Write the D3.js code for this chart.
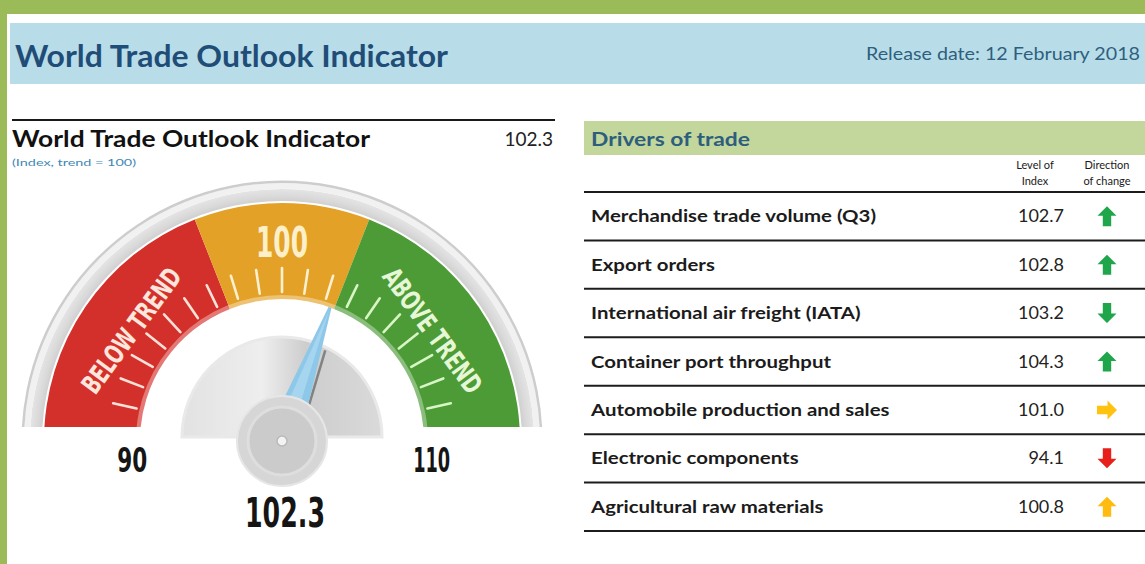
<!DOCTYPE html>
<html><head><meta charset="utf-8">
<script src="https://cdn.jsdelivr.net/npm/d3@7"></script>
<style>
html,body{margin:0;padding:0;background:#9bbb59;}
svg{display:block;}
</style></head><body>
<svg id="chart" width="1145" height="564"></svg>
<script>
// ---------------- data ----------------
const pageTitle = "World Trade Outlook Indicator";
const releaseDate = "Release date: 12 February 2018";
const gaugeTitle = "World Trade Outlook Indicator";
const gaugeSubtitle = "(Index, trend = 100)";
const gaugeValue = 102.3;
const gaugeDomain = [90, 110];
const bandBreaks = [90, 97.5, 102.5, 110];
const bandLabels = ["BELOW TREND", "100", "ABOVE TREND"];
const gaugeTicks = [91, 92, 93, 94, 95, 96, 97, 98, 99, 100, 101, 102, 103, 104, 105, 106, 107, 108, 109];
const gaugeEndLabels = ["90", "110"];
const tableTitle = "Drivers of trade";
const columnHeads = [["Level of", "Index"], ["Direction", "of change"]];
const drivers = [
  "Merchandise trade volume (Q3)",
  "Export orders",
  "International air freight (IATA)",
  "Container port throughput",
  "Automobile production and sales",
  "Electronic components",
  "Agricultural raw materials"
];
const driverValues = [102.7, 102.8, 103.2, 104.3, 101.0, 94.1, 100.8];
const driverDirections = ["up", "up", "down", "up", "right", "down", "up"];

// ---------------- styles ----------------
const bandColors = ["#d4302b", "#e4a127", "#4d9b36"];
const bandTextColors = ["#fde6dc", "#fdf0c8", "#e6f7d6"];
const arrowColors = ["#1fa64b", "#1fa64b", "#1fa64b", "#1fa64b", "#ffc20e", "#e8201c", "#ffbb0f"];
const bodyFont = "Lato, 'Open Sans', sans-serif";
const narrowFont = "'Liberation Sans Narrow','DejaVu Sans Condensed','Roboto Condensed',sans-serif";

const svg = d3.select("#chart");
const defs = svg.append("defs");

function fit(sel, w) { return sel.attr("textLength", w).attr("lengthAdjust", "spacingAndGlyphs"); }

// page background
svg.append("rect").attr("x", 7).attr("y", 14).attr("width", 1138).attr("height", 550).attr("fill", "#ffffff");
svg.append("rect").attr("x", 10).attr("y", 23).attr("width", 1135).attr("height", 61).attr("fill", "#b8dde8");
fit(svg.append("text").attr("x", 15).attr("y", 67).attr("font-family", bodyFont).attr("font-weight", 700)
  .attr("font-size", 30).attr("fill", "#1f4d78").text(pageTitle), 433);
fit(svg.append("text").attr("x", 866).attr("y", 60).attr("font-family", bodyFont)
  .attr("font-size", 17).attr("fill", "#2f5f7e").text(releaseDate), 274);

// ---------------- left panel ----------------
svg.append("line").attr("x1", 12).attr("x2", 555).attr("y1", 120).attr("y2", 120)
  .attr("stroke", "#1a1a1a").attr("stroke-width", 2);
fit(svg.append("text").attr("x", 12).attr("y", 147).attr("font-family", bodyFont).attr("font-weight", 700)
  .attr("font-size", 22).attr("fill", "#111").text(gaugeTitle), 358);
svg.append("text").attr("x", 553).attr("y", 146).attr("text-anchor", "end").attr("font-family", bodyFont)
  .attr("font-size", 19).attr("fill", "#222").text(d3.format(".1f")(gaugeValue));
fit(svg.append("text").attr("x", 12).attr("y", 166).attr("font-family", bodyFont)
  .attr("font-size", 10).attr("fill", "#3f88b5").text(gaugeSubtitle), 124);

const cx = 282, cy = 441;
const angle = d3.scaleLinear().domain(gaugeDomain).range([-86, 86]);
const rad = d => d * Math.PI / 180;
const polar = (r, deg) => [r * Math.sin(rad(deg)), -r * Math.cos(rad(deg))];

defs.append("clipPath").attr("id", "cut").append("rect")
  .attr("x", -300).attr("y", -300).attr("width", 600).attr("height", 286);

const dialGrad = defs.append("linearGradient").attr("id", "dialGrad").attr("x1", 0).attr("x2", 1).attr("y1", 0).attr("y2", 0);
[["0%", "#e2e2e2"], ["40%", "#eeeeee"], ["62%", "#cdcdcd"], ["100%", "#dadada"]]
  .forEach(([o, c]) => dialGrad.append("stop").attr("offset", o).attr("stop-color", c));
const rimGrad = defs.append("radialGradient").attr("id", "rimGrad").attr("gradientUnits", "userSpaceOnUse")
  .attr("cx", 0).attr("cy", 0).attr("r", 252);
[["94%", "#c9c9c9"], ["97%", "#d9d9d9"], ["100%", "#e4e4e4"]]
  .forEach(([o, c]) => rimGrad.append("stop").attr("offset", o).attr("stop-color", c));

const g = svg.append("g").attr("transform", `translate(${cx},${cy})`);
const gc = g.append("g").attr("clip-path", "url(#cut)");
const half = Math.PI / 2;

// rim
gc.append("path").attr("d", d3.arc()({ innerRadius: 240, outerRadius: 252, startAngle: -half, endAngle: half }))
  .attr("fill", "url(#rimGrad)");
gc.append("path").attr("d", d3.arc()({ innerRadius: 252, outerRadius: 258, startAngle: -half, endAngle: half }))
  .attr("fill", "#f1f1f1");
gc.append("path").attr("d", d3.arc()({ innerRadius: 258, outerRadius: 260.5, startAngle: -half, endAngle: half }))
  .attr("fill", "#cdcdcd");

// coloured bands
const bands = bandColors.map((c, i) => ({ from: bandBreaks[i], to: bandBreaks[i + 1], color: c, i }));
gc.selectAll("path.band").data(bands).join("path").attr("class", "band")
  .attr("d", d => d3.arc()({
    innerRadius: 142, outerRadius: 238,
    startAngle: d.from === gaugeDomain[0] ? -half : rad(angle(d.from)),
    endAngle: d.to === gaugeDomain[1] ? half : rad(angle(d.to))
  }))
  .attr("fill", d => d.color);
gc.append("path").attr("d", d3.arc()({ innerRadius: 140, outerRadius: 146, startAngle: -half, endAngle: half }))
  .attr("fill", "#ffffff").attr("opacity", 0.35);

// ticks
g.selectAll("line.tick").data(gaugeTicks).join("line").attr("class", "tick")
  .attr("x1", v => polar(149, angle(v))[0]).attr("y1", v => polar(149, angle(v))[1])
  .attr("x2", v => polar(173, angle(v))[0]).attr("y2", v => polar(173, angle(v))[1])
  .attr("stroke", v => v < bandBreaks[1] ? "#fbe1d8" : v > bandBreaks[2] ? "#d8f5c6" : "#fbf0cf")
  .attr("stroke-width", 2.6).attr("stroke-linecap", "round");

// band labels
bands.forEach(d => {
  const mid = (d.from + d.to) / 2;
  const a = angle(mid);
  const isCenter = d.i === 1;
  const [x, y] = polar(isCenter ? 199 : 187, a);
  fit(g.append("text")
    .attr("transform", `translate(${x},${y}) rotate(${a})`)
    .attr("text-anchor", "middle").attr("dy", "0.36em")
    .attr("font-family", narrowFont).attr("font-weight", 700)
    .attr("font-size", isCenter ? 43 : 27)
    .attr("fill", bandTextColors[d.i])
    .text(bandLabels[d.i]), isCenter ? 52 : 148);
});

// dial half-disk
g.append("path").attr("transform", "translate(0,-4)")
  .attr("d", d3.arc()({ innerRadius: 0, outerRadius: 100, startAngle: -half, endAngle: half }))
  .attr("fill", "url(#dialGrad)").attr("stroke", "#e9e9e9").attr("stroke-width", 3);

// needle
const na = angle(gaugeValue);
const dir = [Math.sin(rad(na)), -Math.cos(rad(na))];
const perp = [Math.cos(rad(na)), Math.sin(rad(na))];
const pt = (r, o) => [dir[0] * r + perp[0] * o, dir[1] * r + perp[1] * o];
g.append("line")
  .attr("x1", pt(100, 10)[0]).attr("y1", pt(100, 10)[1])
  .attr("x2", pt(30, 14)[0]).attr("y2", pt(30, 14)[1])
  .attr("stroke", "#6f6f6f").attr("stroke-width", 2.5).attr("opacity", 0.8);
g.append("path").attr("d", d3.line()([pt(142, 1.5), pt(28, 14), pt(28, -14), pt(142, -1.5)]) + "Z")
  .attr("fill", "#8ec8e9");
g.append("path").attr("d", d3.line()([pt(138, 0), pt(32, 5), pt(32, -8)]) + "Z")
  .attr("fill", "#a6d5ef");

// pivot
g.append("circle").attr("r", 45).attr("fill", "#d6d6d6").attr("stroke", "#e6e6e6").attr("stroke-width", 2);
g.append("circle").attr("r", 34).attr("fill", "#cbcbcb").attr("stroke", "#dedede").attr("stroke-width", 3);
g.append("circle").attr("r", 5).attr("fill", "#f3f3f3").attr("stroke", "#b9b9b9").attr("stroke-width", 1.5);

// end labels and value
gaugeDomain.forEach((v, i) => {
  const [x] = polar(150, angle(v));
  fit(g.append("text").attr("x", x).attr("y", 31).attr("text-anchor", "middle")
    .attr("font-family", narrowFont).attr("font-weight", 700).attr("font-size", 34)
    .attr("fill", "#151515").text(gaugeEndLabels[i]), i === 0 ? 30 : 37);
});
fit(g.append("text").attr("x", 3).attr("y", 86).attr("text-anchor", "middle")
  .attr("font-family", narrowFont).attr("font-weight", 700).attr("font-size", 41)
  .attr("fill", "#151515").text(d3.format(".1f")(gaugeValue)), 80);

// ---------------- right table ----------------
svg.append("rect").attr("x", 584).attr("y", 121).attr("width", 561).attr("height", 34).attr("fill", "#c3d69b");
fit(svg.append("text").attr("x", 591).attr("y", 146).attr("font-family", bodyFont).attr("font-weight", 700)
  .attr("font-size", 19).attr("fill", "#2d5e7e").text(tableTitle), 159);

const colX = [1035, 1107];
columnHeads.forEach((lines, ci) => {
  lines.forEach((t, li) => {
    svg.append("text").attr("x", colX[ci]).attr("y", 169 + li * 16).attr("text-anchor", "middle")
      .attr("font-family", bodyFont).attr("font-size", 11).attr("fill", "#1a1a1a").text(t);
  });
});

const rows = d3.scaleBand().domain(drivers).range([192, 531]);
const lineYs = [192].concat(drivers.map(d => rows(d) + rows.bandwidth()));
svg.selectAll("line.rowline").data(lineYs).join("line").attr("class", "rowline")
  .attr("x1", 584).attr("x2", 1145).attr("y1", d => d).attr("y2", d => d)
  .attr("stroke", "#1c1c1c").attr("stroke-width", 2);

const labelSel = svg.selectAll("text.lbl").data(drivers).join("text").attr("class", "lbl")
  .attr("x", 591).attr("y", d => rows(d) + rows.bandwidth() / 2 + 6)
  .attr("font-family", bodyFont).attr("font-weight", 700).attr("font-size", 17.5).attr("fill", "#1b1b1b")
  .text(d => d);
// scale all labels uniformly so the first one matches the reference width
const natural0 = labelSel.nodes()[0].getComputedTextLength();
const k = 285 / natural0;
labelSel.each(function () { fit(d3.select(this), this.getComputedTextLength() * k); });

svg.selectAll("text.val").data(driverValues).join("text").attr("class", "val")
  .attr("x", 1064).attr("y", (d, i) => rows(drivers[i]) + rows.bandwidth() / 2 + 6)
  .attr("text-anchor", "end").attr("font-family", bodyFont).attr("font-size", 18).attr("fill", "#222")
  .text(d => d3.format(".1f")(d));

const arrowPath = "M0,-10L9.5,-0.5L4.2,-0.5L4.2,10L-4.2,10L-4.2,-0.5L-9.5,-0.5Z";
const rot = { up: 0, right: 90, down: 180 };
svg.selectAll("path.arrow").data(driverDirections).join("path").attr("class", "arrow")
  .attr("transform", (d, i) => `translate(${colX[1]},${rows(drivers[i]) + rows.bandwidth() / 2}) rotate(${rot[d]})`)
  .attr("d", arrowPath)
  .attr("fill", (d, i) => arrowColors[i]);
</script>
</body></html>
